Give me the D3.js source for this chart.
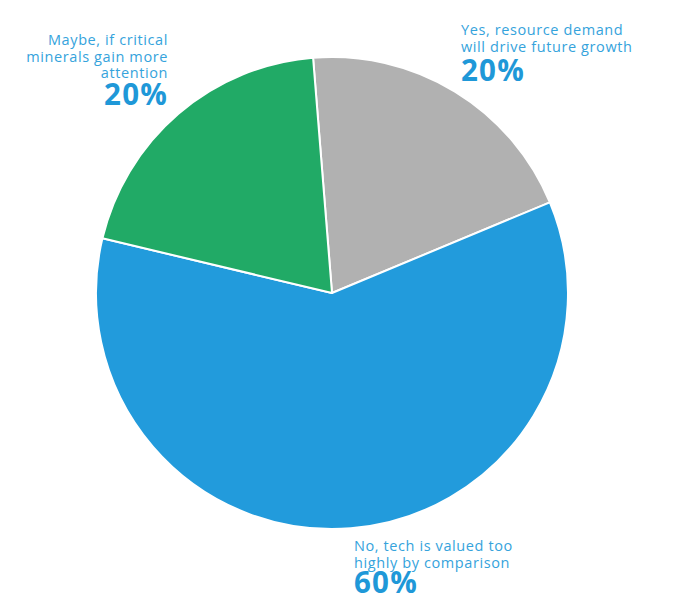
<!DOCTYPE html>
<html><head><meta charset="utf-8">
<script src="https://cdn.jsdelivr.net/npm/d3@7"></script>
<style>body{margin:0;background:#fff}svg{display:block}</style>
</head><body>
<script>
const categories = ["Yes, resource demand will drive future growth", "No, tech is valued too highly by comparison", "Maybe, if critical minerals gain more attention"];
const values = [20, 60, 20];
const labelLines = [["Yes, resource demand", "will drive future growth"], ["No, tech is valued too", "highly by comparison"], ["Maybe, if critical", "minerals gain more", "attention"]];
const pctLabels = ["20%", "60%", "20%"];
const colors = ["#b1b1b1", "#229bdc", "#21aa66"];

const W = 678, H = 614;
const svg = d3.select("body").append("svg").attr("width", W).attr("height", H);
const cx = 332, cy = 293, R = 236;
const offset = -4.6 * Math.PI / 180;
const pie = d3.pie().sort(null).value(d => d).startAngle(offset).endAngle(offset + 2 * Math.PI);
const arcs = pie(values);
const arc = d3.arc().innerRadius(0).outerRadius(R);
const g = svg.append("g").attr("transform", `translate(${cx},${cy})`);
g.selectAll("path").data(arcs).enter().append("path")
  .attr("d", arc).attr("fill", (d, i) => colors[i])
  .attr("stroke", "#fff").attr("stroke-width", 2).attr("stroke-linejoin", "round");

const font = "'Open Sans', sans-serif";
const txtColor = "#35a3dc";
const pos = [
  {x: 461, y: 35, anchor: "start", pctY: 81},
  {x: 354, y: 551, anchor: "start", pctY: 593},
  {x: 168, y: 45, anchor: "end", pctY: 105}
];
pos.forEach((p, i) => {
  const t = svg.append("text").attr("x", p.x).attr("y", p.y)
    .attr("text-anchor", p.anchor).attr("font-family", font).attr("font-size", 14.5)
    .attr("letter-spacing", 0.6).attr("fill", txtColor);
  labelLines[i].forEach((l, j) => {
    t.append("tspan").attr("x", p.x).attr("y", p.y + j * 16.5).text(l);
  });
  svg.append("text").attr("x", p.x).attr("y", p.pctY).attr("text-anchor", p.anchor)
    .attr("font-family", font).attr("font-weight", 700).attr("font-size", 29.5)
    .attr("letter-spacing", 1.2).attr("fill", "#1f98d8").text(pctLabels[i]);
});
</script>
</body></html>
